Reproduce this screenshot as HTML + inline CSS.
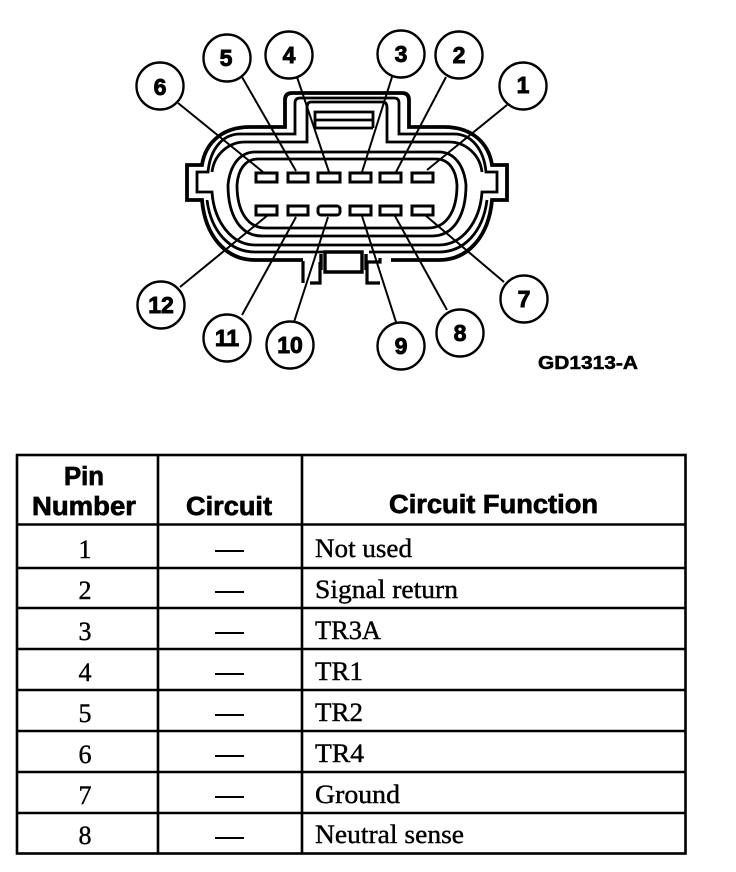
<!DOCTYPE html>
<html>
<head>
<meta charset="utf-8">
<style>
html,body{margin:0;padding:0;background:#fff;width:736px;height:872px;overflow:hidden}
svg{display:block}
.n{font:bold 23px "Liberation Sans",sans-serif;text-anchor:middle;fill:#000;stroke:#000;stroke-width:.9}
.h{font:bold 25.5px "Liberation Sans",sans-serif;fill:#000;stroke:#000;stroke-width:.7}
.b{font:26px "Liberation Serif",serif;fill:#000;stroke:#000;stroke-width:.4}
.c{text-anchor:middle}
</style>
</head>
<body>
<svg width="736" height="872" viewBox="0 0 736 872" xmlns="http://www.w3.org/2000/svg">
<rect width="736" height="872" fill="#fff"/>
<defs>
<g id="half" fill="none" stroke="#000" stroke-width="2.8">
<path stroke-width="3.8" d="M347 93H292Q285 93 285 100V127H250C220 127 205 145 202 165H187V200H202C205 235 225 260 255 260H303"/>
<path d="M347 98H300Q295 98 295 103V134H240C222 134 210 150 208 172H197V192H212C214 222 232 245 255 245H347"/>
<path d="M207 200C211 232 230 252 255 252H325"/>
<path d="M347 102H311Q307 102 307 108V142H245C228 142 214 155 212 172"/>
<path d="M347 152H255C240 152 230 165 228 185C228 215 240 236 262 236H347"/>
<path d="M347 159H258C245 159 238 170 237 185C237 212 248 228 266 228H347"/>
</g>
</defs>
<use href="#half"/>
<use href="#half" transform="translate(694,0) scale(-1,1)"/>
<g fill="none" stroke="#000" stroke-width="2.8">
<path d="M315 128V112H373V128M315 120H373M315 128H373"/>
<path stroke-width="3.4" d="M325 252H362V272H325ZM321 254V270M366 254V270"/>
<path stroke-width="3.2" d="M303 261V283M320 262V283H310M367 262V283H380M367 262H380V258"/>
<g fill="#fff" stroke-width="3">
<rect x="256" y="173" width="21" height="9"/><rect x="288" y="173" width="20" height="9"/><rect x="318" y="173" width="22" height="9"/><rect x="350" y="173" width="21" height="9"/><rect x="380" y="173" width="21" height="9"/><rect x="412" y="173" width="21" height="9"/>
<rect x="256" y="206" width="21" height="9"/><rect x="288" y="206" width="20" height="9"/><rect x="318" y="206" width="22" height="9" rx="3"/><rect x="350" y="206" width="21" height="9"/><rect x="380" y="206" width="21" height="9"/><rect x="412" y="206" width="21" height="9"/>
</g>
</g>
<g stroke="#000" stroke-width="2" fill="none">
<line x1="178" y1="103" x2="263" y2="172"/>
<line x1="242" y1="77" x2="296" y2="171"/>
<line x1="297" y1="77" x2="329" y2="172"/>
<line x1="392" y1="77" x2="362" y2="172"/>
<line x1="446" y1="77" x2="396" y2="172"/>
<line x1="507" y1="105" x2="427" y2="170"/>
<line x1="180" y1="287" x2="268" y2="215"/>
<line x1="242" y1="315" x2="296" y2="217"/>
<line x1="294" y1="322" x2="328" y2="217"/>
<line x1="396" y1="322" x2="362" y2="216"/>
<line x1="447" y1="310" x2="395" y2="216"/>
<line x1="504" y1="282" x2="425" y2="215"/>
</g>
<g fill="#fff" stroke="#000" stroke-width="2.4">
<circle cx="160" cy="86" r="23.5"/><circle cx="227" cy="58" r="23.5"/><circle cx="289" cy="55" r="23.5"/><circle cx="401" cy="54" r="23.5"/><circle cx="459" cy="55" r="23.5"/><circle cx="523" cy="86" r="23.5"/>
<circle cx="161" cy="305" r="23.5"/><circle cx="227" cy="338" r="23.5"/><circle cx="290" cy="345" r="23.5"/><circle cx="401" cy="346" r="23.5"/><circle cx="460" cy="333" r="23.5"/><circle cx="524" cy="299" r="23.5"/>
</g>
<g class="n">
<text class="n" x="160" y="95">6</text><text class="n" x="226" y="66">5</text><text class="n" x="289" y="63">4</text><text class="n" x="401" y="62">3</text><text class="n" x="459" y="63">2</text><text class="n" x="523" y="93">1</text>
<text class="n" x="161" y="313">12</text><text class="n" x="227" y="346">11</text><text class="n" x="290" y="353">10</text><text class="n" x="401" y="354">9</text><text class="n" x="460" y="341">8</text><text class="n" x="524" y="307">7</text>
</g>
<text x="538" y="369" font-family="Liberation Sans" font-weight="bold" font-size="18" textLength="100" lengthAdjust="spacingAndGlyphs" stroke="#000" stroke-width=".5">GD1313-A</text>
<g stroke="#000" stroke-width="2.6" fill="none">
<rect x="17" y="455" width="668.5" height="398.500"/>
<path d="M158 455V853M302 455V853M17 524.500H685M17 568H685M17 608H685M17 649H685M17 690H685M17 731H685M17 772H685M17 813H685"/>
</g>
<text class="h" x="64" y="485" textLength="40" lengthAdjust="spacingAndGlyphs">Pin</text>
<text class="h" x="32" y="515" textLength="104" lengthAdjust="spacingAndGlyphs">Number</text>
<text class="h" x="186" y="515" textLength="86" lengthAdjust="spacingAndGlyphs">Circuit</text>
<text class="h" x="389" y="513" textLength="209" lengthAdjust="spacingAndGlyphs">Circuit Function</text>
<g class="b">
<text class="b c" x="85" y="558">1</text><text class="b c" x="85" y="599">2</text><text class="b c" x="85" y="640">3</text><text class="b c" x="85" y="681">4</text><text class="b c" x="85" y="722">5</text><text class="b c" x="85" y="763">6</text><text class="b c" x="85" y="804">7</text><text class="b c" x="85" y="844">8</text>
<text class="b" x="315" y="557" textLength="97" lengthAdjust="spacingAndGlyphs">Not used</text>
<text class="b" x="315" y="598" textLength="143" lengthAdjust="spacingAndGlyphs">Signal return</text>
<text class="b" x="315" y="639" textLength="66" lengthAdjust="spacingAndGlyphs">TR3A</text>
<text class="b" x="315" y="680" textLength="48" lengthAdjust="spacingAndGlyphs">TR1</text>
<text class="b" x="315" y="721" textLength="48" lengthAdjust="spacingAndGlyphs">TR2</text>
<text class="b" x="315" y="762" textLength="49" lengthAdjust="spacingAndGlyphs">TR4</text>
<text class="b" x="315" y="803" textLength="85" lengthAdjust="spacingAndGlyphs">Ground</text>
<text class="b" x="315" y="843" textLength="149" lengthAdjust="spacingAndGlyphs">Neutral sense</text>
</g>
<g stroke="#000" stroke-width="2">
<path d="M215 551H244M215 592H244M215 633H244M215 674H244M215 715H244M215 756H244M215 797H244M215 838H244"/>
</g>
</svg>
</body>
</html>
